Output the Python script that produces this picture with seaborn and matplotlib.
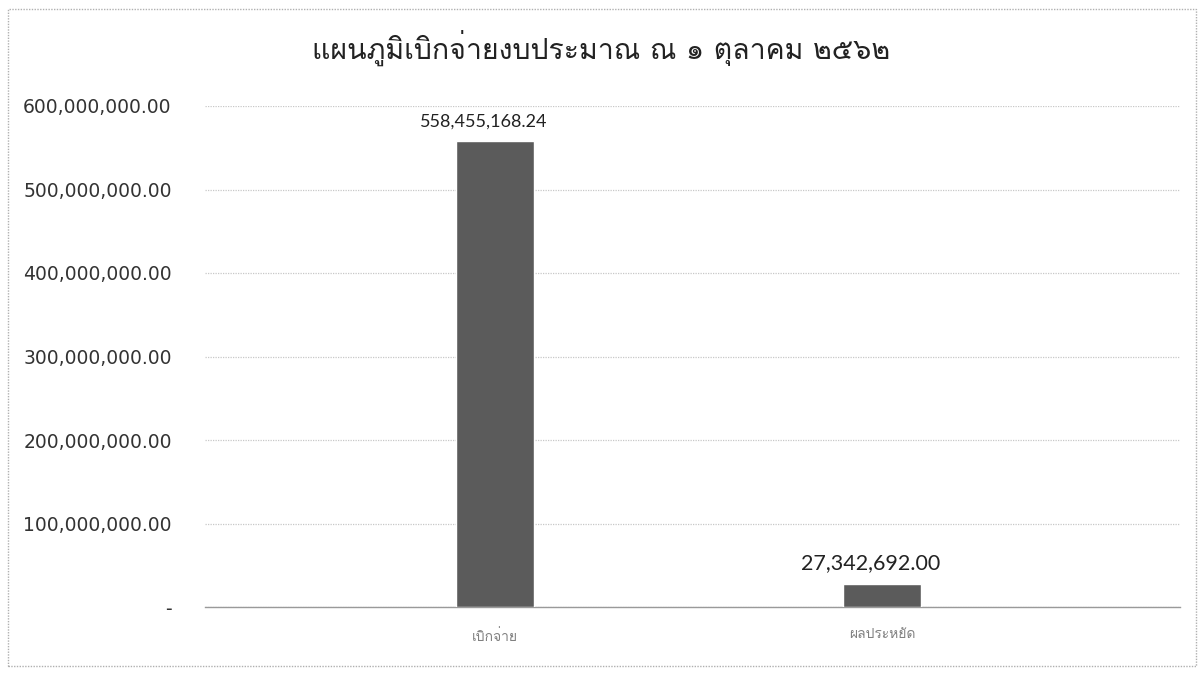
import matplotlib
matplotlib.use("Agg")
import matplotlib.pyplot as plt
import seaborn as sns
import pandas as pd
from matplotlib import font_manager as fm
from matplotlib.ticker import FuncFormatter
from matplotlib.patches import Rectangle

categories = ["เบิกจ่าย", "ผลประหยัด"]
values = [558455168.24, 27342692.00]
title = "แผนภูมิเบิกจ่ายงบประมาณ ณ ๑ ตุลาคม ๒๕๖๒"
yticks = [0, 100000000, 200000000, 300000000, 400000000, 500000000, 600000000]

# find a font with Thai glyphs
thai_font = None
try:
    from fontTools.ttLib import TTFont
    for f in fm.fontManager.ttflist:
        try:
            tt = TTFont(f.fname, fontNumber=0, lazy=True)
            cmap = tt.getBestCmap()
            if cmap and ord("แ") in cmap and ord("๒") in cmap:
                thai_font = f.name
                break
        except Exception:
            continue
except Exception:
    pass
thai_fam = [thai_font, "DejaVu Sans"] if thai_font else ["DejaVu Sans"]

sns.set_theme(style="white")
plt.rcParams["font.family"] = ["DejaVu Sans"]

fig = plt.figure(figsize=(12.04, 6.74), dpi=100)
ax = fig.add_axes([205/1204, 1-607/674, 975/1204, 501/674])

df = pd.DataFrame({"cat": categories, "val": values})
sns.barplot(data=df, x="cat", y="val", color="#5b5b5b", width=0.2, ax=ax,
            saturation=1, zorder=3)

ax.set_ylim(0, 600000000)
ax.set_xlim(-0.749, 1.77)
ax.set_yticks(yticks)
ax.yaxis.set_major_formatter(FuncFormatter(lambda v, p: "-" if v == 0 else f"{v:,.2f}"))
ax.grid(axis="y", color="#c8c8c8", linewidth=0.9, linestyle=(0, (1, 1)), zorder=0)
ax.grid(axis="x", visible=False)
for s in ["top", "right", "left"]:
    ax.spines[s].set_visible(False)
ax.spines["bottom"].set_color("#9a9a9a")
ax.spines["bottom"].set_linewidth(1.0)
ax.tick_params(axis="y", labelsize=13.5, labelcolor="#333333", length=0, pad=24)
ax.tick_params(axis="x", length=0, pad=16)
ax.set_xlabel("")
ax.set_ylabel("")
for lbl in ax.get_xticklabels():
    lbl.set_fontfamily(thai_fam)
    lbl.set_fontsize(10)
    lbl.set_color("#808080")

label_sizes = [13, 15.5]
for i, v in enumerate(values):
    ax.text(i - 0.03, v + 13000000, f"{v:,.2f}", ha="center", va="bottom",
            fontsize=label_sizes[i], color="#222222", family=["Lato", "DejaVu Sans"])

fig.text(601/1204, 1-48/674, title, ha="center", va="center", fontsize=20.5,
         color="#222222", family=thai_fam)

fig.patches.append(Rectangle((8/1204, 8/674), 1188/1204, 657/674, transform=fig.transFigure,
                             fill=False, edgecolor="#b0b0b0", linewidth=1.0, linestyle=(0, (1, 1))))

fig.savefig("out.png", dpi=100, facecolor="white")
